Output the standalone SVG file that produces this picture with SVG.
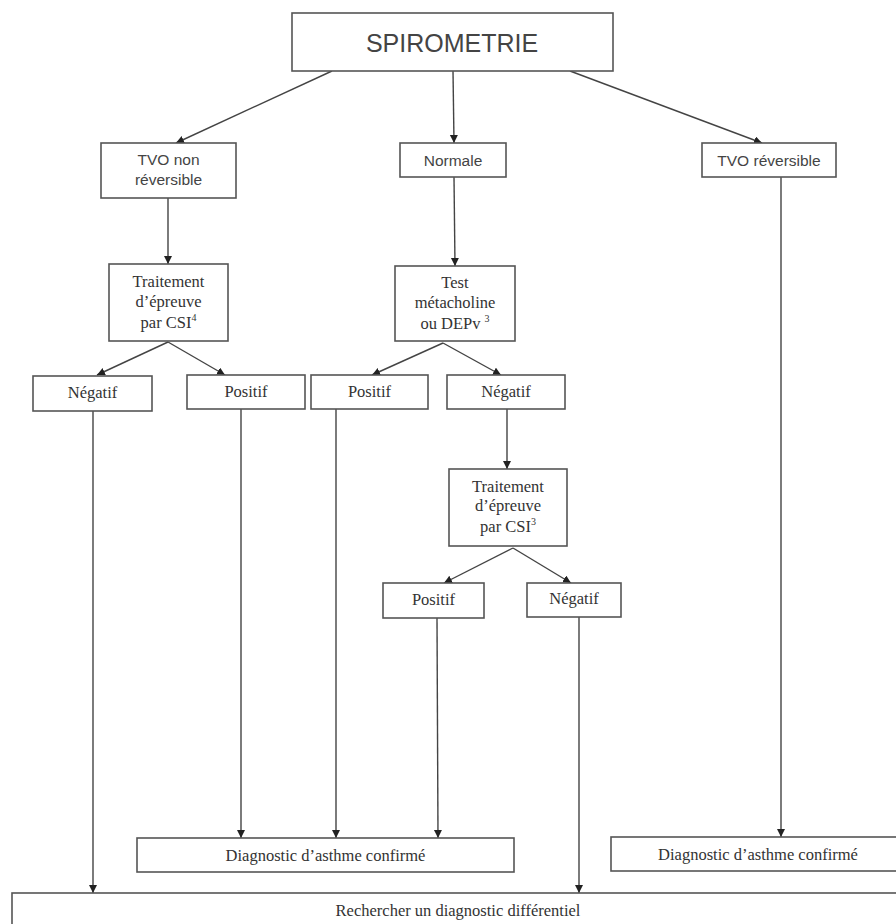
<svg xmlns="http://www.w3.org/2000/svg" width="896" height="924" viewBox="0 0 896 924">
<style>
.box{fill:#fff;stroke:#555;stroke-width:1.6}
.sans{font-family:"Liberation Sans",Arial,sans-serif;fill:#444;text-anchor:middle}
.serif{font-family:"Liberation Serif","Times New Roman",serif;fill:#333;text-anchor:middle;font-size:16.5px}
.sup{font-size:10px}
.conn line{stroke:#444;stroke-width:1.4;marker-end:url(#arr)}
</style>
<defs>
<marker id="arr" markerUnits="userSpaceOnUse" markerWidth="9" markerHeight="9" refX="8" refY="4" orient="auto">
<path d="M0,0 L8,4 L0,8 z" fill="#222"/>
</marker>
</defs>
<rect width="896" height="924" fill="#fff"/>
<g class="conn" id="connectors">
<line x1="332" y1="71" x2="176" y2="143"/>
<line x1="453" y1="71" x2="454" y2="143"/>
<line x1="570" y1="71" x2="762" y2="143"/>
<line x1="168" y1="198" x2="168" y2="264"/>
<line x1="454" y1="177" x2="455" y2="266"/>
<line x1="168" y1="342" x2="97" y2="375"/>
<line x1="168" y1="342" x2="225" y2="375"/>
<line x1="443" y1="343" x2="372" y2="375"/>
<line x1="443" y1="343" x2="501" y2="375"/>
<line x1="507" y1="409" x2="507" y2="469"/>
<line x1="513" y1="548" x2="444" y2="583"/>
<line x1="513" y1="548" x2="571" y2="583"/>
<line x1="93" y1="411" x2="93" y2="893"/>
<line x1="241" y1="409" x2="241" y2="838"/>
<line x1="336" y1="409" x2="336" y2="838"/>
<line x1="437" y1="618" x2="438" y2="838"/>
<line x1="579" y1="617" x2="579" y2="893"/>
<line x1="781" y1="177" x2="781" y2="837"/>
</g>
<g id="spirometrie"><rect class="box" x="292" y="13" width="321" height="58"/><text class="sans" x="452" y="52" font-size="25">SPIROMETRIE</text></g>
<g id="tvo-non"><rect class="box" x="101" y="143" width="135" height="55"/><text class="sans" x="168.5" y="165" font-size="15.5">TVO non</text><text class="sans" x="168.5" y="185" font-size="15.5">réversible</text></g>
<g id="normale"><rect class="box" x="400" y="143" width="106" height="34"/><text class="sans" x="453" y="166" font-size="15.5">Normale</text></g>
<g id="tvo-rev"><rect class="box" x="702" y="143" width="134" height="34"/><text class="sans" x="769" y="166" font-size="15.5">TVO réversible</text></g>
<g id="traitement1"><rect class="box" x="109" y="264" width="119" height="77"/><text class="serif" x="168.5" y="287">Traitement</text><text class="serif" x="168.5" y="307">d’épreuve</text><text class="serif" x="168.5" y="328">par CSI<tspan class="sup" dy="-7">4</tspan></text></g>
<g id="test"><rect class="box" x="395" y="266" width="120" height="75"/><text class="serif" x="455" y="288">Test</text><text class="serif" x="455" y="308">métacholine</text><text class="serif" x="455" y="329">ou DEPv <tspan class="sup" dy="-7">3</tspan></text></g>
<g id="negatif1"><rect class="box" x="33" y="376" width="119" height="35"/><text class="serif" x="92.5" y="398">Négatif</text></g>
<g id="positif1"><rect class="box" x="187" y="375" width="118" height="34"/><text class="serif" x="246" y="397">Positif</text></g>
<g id="positif2"><rect class="box" x="311" y="375" width="117" height="34"/><text class="serif" x="369.5" y="397">Positif</text></g>
<g id="negatif2"><rect class="box" x="447" y="375" width="118" height="34"/><text class="serif" x="506" y="397">Négatif</text></g>
<g id="traitement2"><rect class="box" x="449" y="469" width="118" height="77"/><text class="serif" x="508" y="492">Traitement</text><text class="serif" x="508" y="511">d’épreuve</text><text class="serif" x="508" y="532">par CSI<tspan class="sup" dy="-7">3</tspan></text></g>
<g id="positif3"><rect class="box" x="383" y="583" width="101" height="35"/><text class="serif" x="433.5" y="605">Positif</text></g>
<g id="negatif3"><rect class="box" x="527" y="583" width="94" height="34"/><text class="serif" x="574" y="604">Négatif</text></g>
<g id="diag1"><rect class="box" x="137" y="838" width="377" height="34"/><text class="serif" x="325.5" y="861">Diagnostic d’asthme confirmé</text></g>
<g id="diag2"><rect class="box" x="611" y="837" width="300" height="34"/><text class="serif" x="758" y="860">Diagnostic d’asthme confirmé</text></g>
<g id="rechercher"><rect class="box" x="12" y="893" width="900" height="50"/><text class="serif" x="458" y="916">Rechercher un diagnostic différentiel</text></g>
</svg>
